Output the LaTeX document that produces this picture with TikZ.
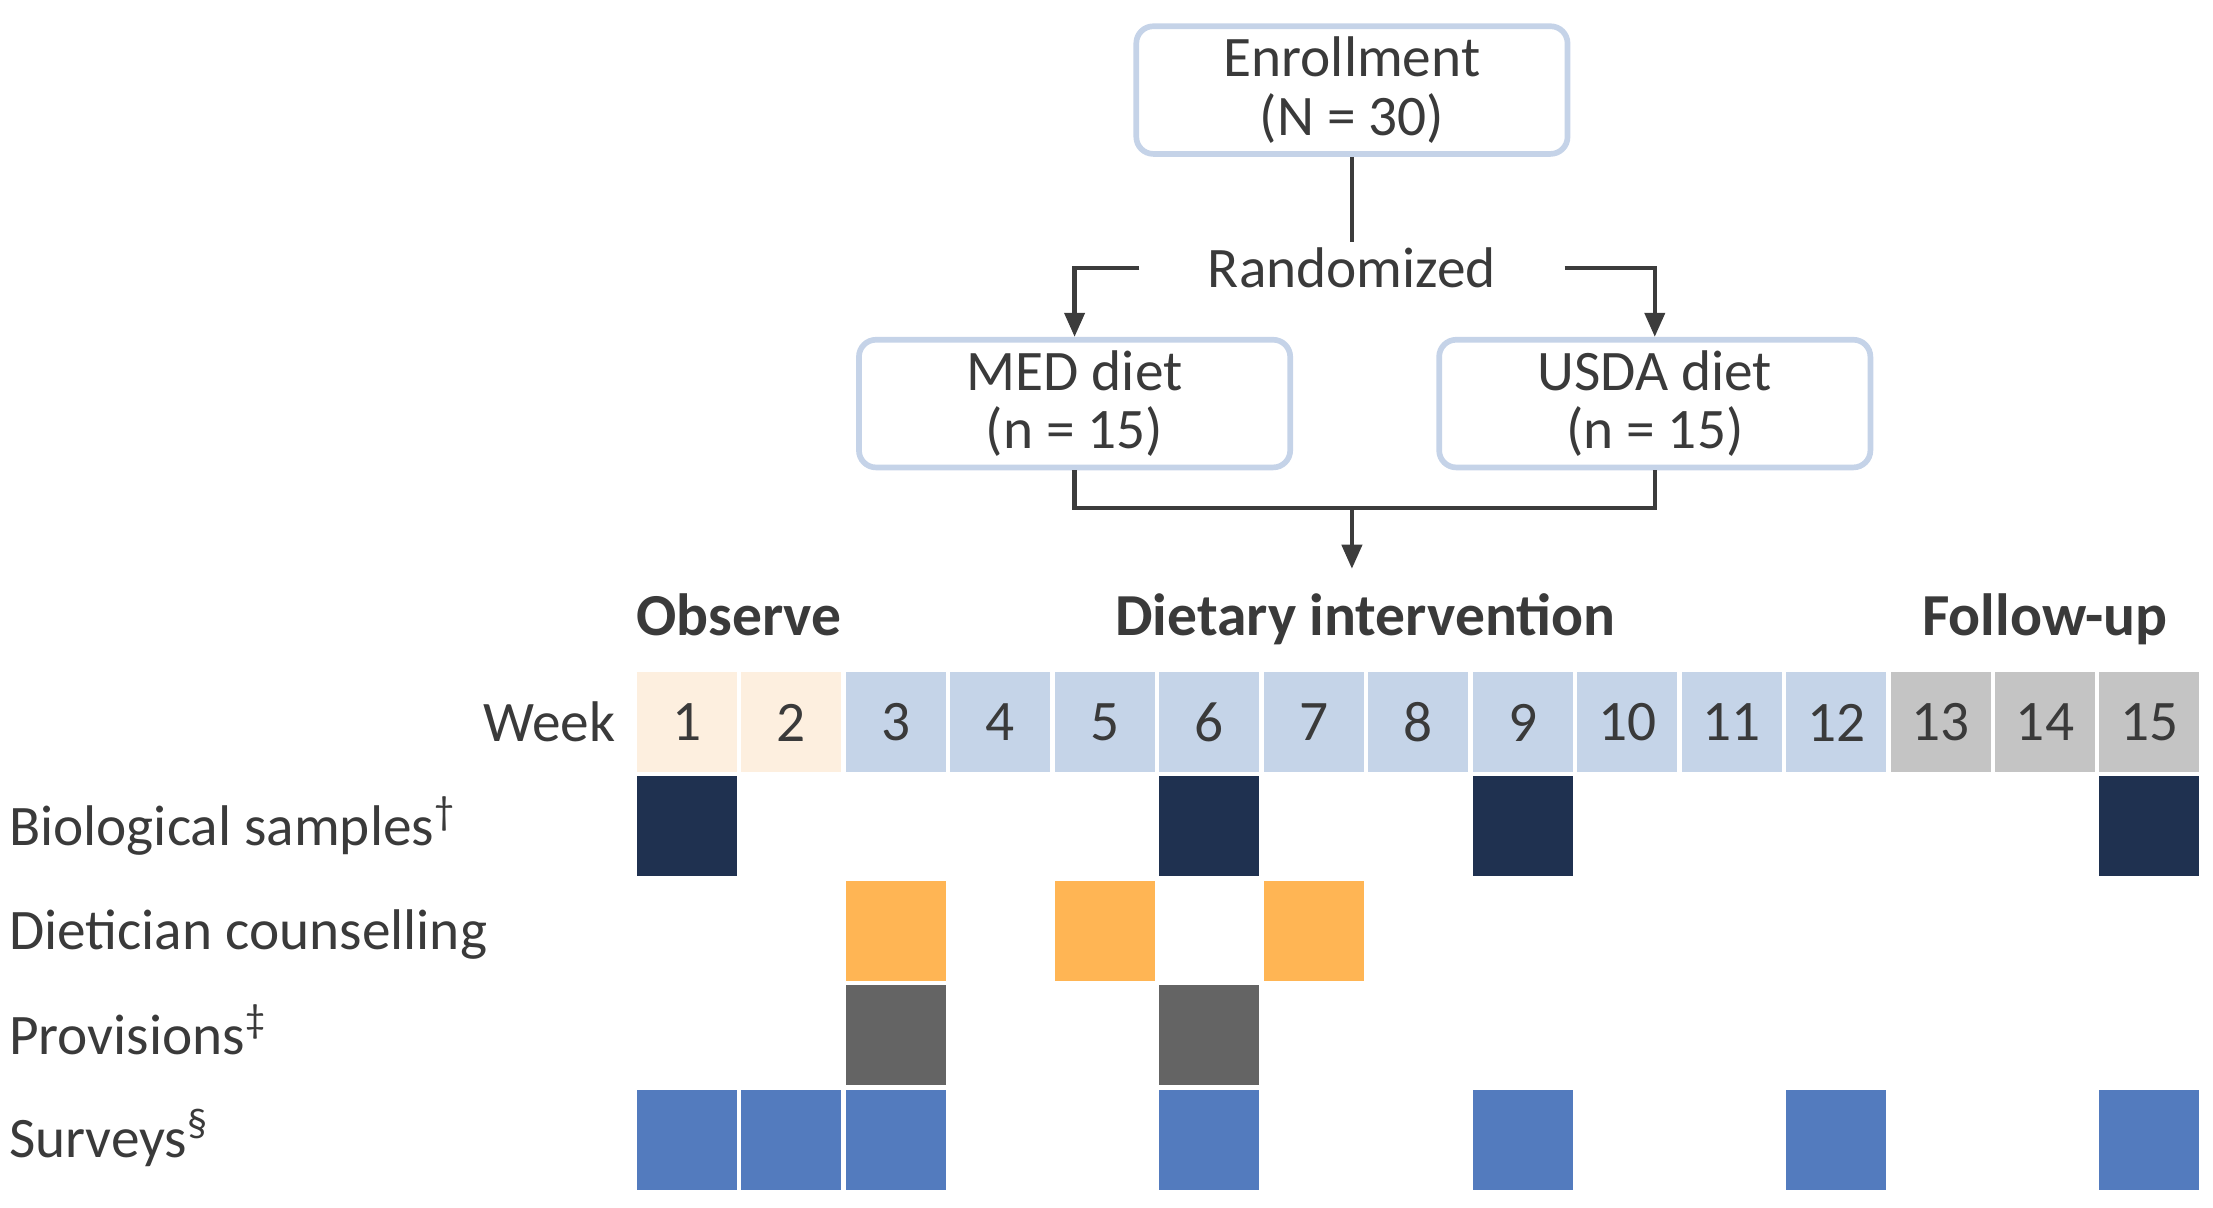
\documentclass[tikz,border=0pt]{standalone}
\usepackage{fontspec}
\setmainfont{Carlito}
\usetikzlibrary{arrows.meta}
\definecolor{txt}{HTML}{3A3A3A}
\definecolor{linec}{HTML}{3C3C3C}
\definecolor{boxc}{HTML}{C5D3E8}
\definecolor{obsc}{HTML}{FDEFDF}
\definecolor{intc}{HTML}{C5D4E8}
\definecolor{folc}{HTML}{C4C4C4}
\definecolor{bioc}{HTML}{1F3150}
\definecolor{dietc}{HTML}{FFB554}
\definecolor{provc}{HTML}{646464}
\definecolor{survc}{HTML}{537BBE}
\tikzset{
  flowbox/.style={draw=boxc, line width=2pt, rounded corners=6pt, minimum width=152pt, minimum height=45pt, align=center, fill=white, inner sep=2pt},
  conn/.style={draw=linec, line width=1.6pt},
  arr/.style={conn, -{Triangle[length=8.5pt,width=7pt]}},
  cellbox/.style={minimum width=35.25pt, minimum height=35.25pt, inner sep=0pt, outer sep=0pt},
  hdr/.style={font=\fontsize{21}{22}\selectfont\bfseries, anchor=base},
  rowlab/.style={anchor=base west, inner sep=0pt}
}
\begin{document}
\begin{tikzpicture}[x=0.5pt,y=-0.5pt, font=\fontsize{20.2}{20.5}\selectfont, text=txt]
\useasboundingbox (0,0) rectangle (1560,851);
% flow part
\node[flowbox] (enr) at (953,63.5) {Enrollment\\(N = 30)};
\node[inner xsep=24pt, inner ysep=2pt] (rand) at (953,189) {Randomized};
\node[flowbox] (med) at (757.5,284.5) {MED diet\\(n = 15)};
\node[flowbox] (usda) at (1166.5,284.5) {USDA diet\\(n = 15)};
\coordinate (join) at (953,358);
\coordinate (tip) at (953,401);
\draw[conn] (enr.south) -- (rand.north);
\draw[arr] (rand.west) -| (med.north);
\draw[arr] (rand.east) -| (usda.north);
\draw[conn] (med.south) |- (join) -| (usda.south);
\draw[arr] (join) -- (tip);
% headers
\node[hdr] (hobs) at (521,448) {Observe};
\node[hdr] (hint) at (962.5,448) {Dietary intervention};
\node[hdr] (hfol) at (1441.5,448) {Follow-up};
% week row
\node[anchor=base east, inner sep=0pt] (week) at (434,523) {Week};
\foreach \i in {1,...,15}{
  \ifnum\i<3 \def\cc{obsc}\else\ifnum\i<13 \def\cc{intc}\else\def\cc{folc}\fi\fi
  \node[cellbox, fill=\cc] (w\i) at ({484.25+(\i-1)*73.64},509.25) {\i};
}
% row labels
\node[rowlab] (lab1) at (6,596) {Biological samples\textsuperscript{†}};
\node[rowlab] (lab2) at (6,669) {Dietician counselling};
\node[rowlab] (lab3) at (6,743) {Provisions\textsuperscript{‡}};
\node[rowlab] (lab4) at (6,816) {Surveys\textsuperscript{§}};
% events
\foreach \i in {1,6,9,15}{
  \node[cellbox, fill=bioc] (b\i) at ({484.25+(\i-1)*73.64},582.25) {};
}
\foreach \i in {3,5,7}{
  \node[cellbox, fill=dietc] (d\i) at ({484.25+(\i-1)*73.64},655.95) {};
}
\foreach \i in {3,6}{
  \node[cellbox, fill=provc] (p\i) at ({484.25+(\i-1)*73.64},729.65) {};
}
\foreach \i in {1,2,3,6,9,12,15}{
  \node[cellbox, fill=survc] (s\i) at ({484.25+(\i-1)*73.64},803.35) {};
}
\end{tikzpicture}
\end{document}
